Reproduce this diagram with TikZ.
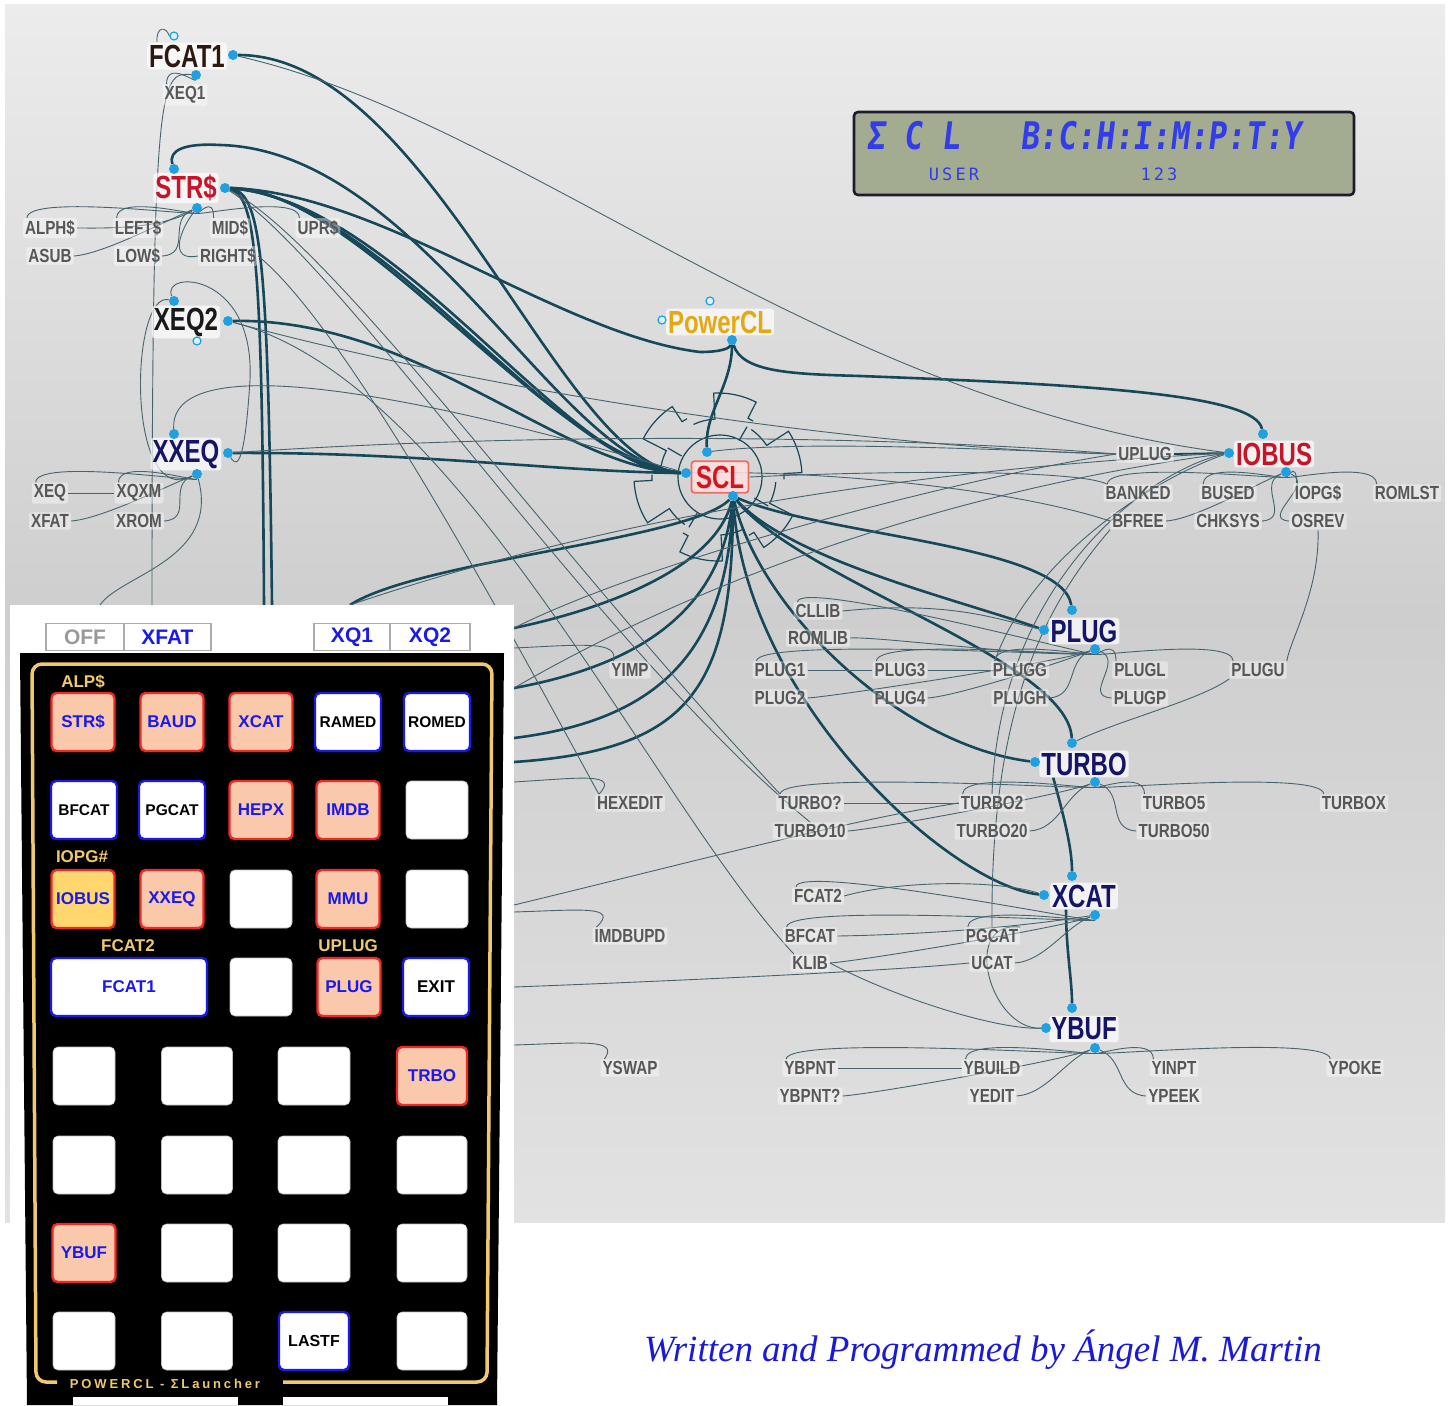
\documentclass[tikz,border=0pt]{standalone}
\usepackage{fontspec}
\setmainfont{Liberation Sans}
\usetikzlibrary{calc}
\newfontfamily\hubfam[FakeStretch=0.75]{Liberation Sans}
\newfontfamily\leaffam[FakeStretch=0.8]{Liberation Sans}
\newfontfamily\keyfam{Liberation Sans}
\newfontfamily\lcdfam[FakeSlant=0.12,FakeStretch=0.82]{DejaVu Sans Mono}
\newfontfamily\lcdsmallfam[LetterSpace=18]{DejaVu Sans Mono}
\newfontfamily\sigfam{Liberation Serif}
\newfontfamily\spacedfam[LetterSpace=22]{Liberation Sans}

\definecolor{edgedark}{RGB}{22,72,90}
\definecolor{edgethin}{RGB}{70,100,112}
\definecolor{portblue}{RGB}{30,160,225}
\definecolor{lcdbg}{RGB}{163,172,145}
\definecolor{lcdtext}{RGB}{50,60,235}
\definecolor{lcdborder}{RGB}{28,28,45}
\definecolor{peach}{RGB}{250,200,170}
\definecolor{keyred}{RGB}{240,40,40}
\definecolor{keyblue}{RGB}{25,25,235}
\definecolor{gold}{RGB}{240,200,110}
\definecolor{ioyellow}{RGB}{255,215,110}
\definecolor{sigblue}{RGB}{25,25,215}
\definecolor{navy}{RGB}{20,20,105}
\definecolor{strred}{RGB}{200,20,40}
\definecolor{sclred}{RGB}{215,20,30}
\definecolor{sclbox}{RGB}{235,110,100}
\definecolor{pcgold}{RGB}{228,168,20}
\definecolor{fcatc}{RGB}{45,25,15}
\definecolor{bgtop}{RGB}{236,236,236}
\definecolor{bgmid}{RGB}{206,206,206}
\definecolor{bgbot}{RGB}{226,226,226}

\pgfdeclarelayer{back}
\pgfdeclarelayer{edges}
\pgfdeclarelayer{front}
\pgfsetlayers{back,edges,main,front}

\tikzset{
  hub/.style={font=\hubfam\bfseries\fontsize{32}{32}\selectfont, fill=white, fill opacity=0.7, text opacity=1, inner sep=2pt, rounded corners=3pt},
  leaf/.style={font=\leaffam\bfseries\fontsize{19}{19}\selectfont, text=black!66, fill=white, fill opacity=0.4, text opacity=1, inner sep=2pt, rounded corners=2pt},
  port/.style={circle, fill=portblue, inner sep=0pt, minimum size=10pt},
  hollow/.style={circle, draw=portblue, fill=white!85!portblue, inner sep=0pt, minimum size=8pt, line width=1.2pt},
  thickedge/.style={draw=edgedark, line width=2.6pt},
  thinedge/.style={draw=edgethin, line width=0.9pt},
  gearline/.style={draw=edgedark, line width=1.2pt},
  keybase/.style={rounded corners=5pt, line width=2.4pt, minimum height=58pt, inner sep=0pt, font=\keyfam\bfseries\fontsize{17}{17}\selectfont},
  redkey/.style={keybase, fill=peach, draw=keyred, text=keyblue, minimum width=63pt},
  iokey/.style={keybase, fill=ioyellow, draw=keyred, text=keyblue, minimum width=63pt},
  bluekey/.style={keybase, fill=white, draw=keyblue, text=black, minimum width=66pt, font=\keyfam\bfseries\fontsize{15.5}{15.5}\selectfont},
  blankkey/.style={keybase, fill=white, draw=gray!50, line width=0.6pt, minimum width=62pt},
  goldlabel/.style={font=\keyfam\bfseries\fontsize{17}{17}\selectfont, text=gold, inner sep=0pt},
  tab/.style={draw=gray!65, line width=1.6pt, fill=white, minimum height=27pt, inner sep=0pt, font=\keyfam\bfseries\fontsize{21}{21}\selectfont},
  lcdch/.style={font=\lcdfam\bfseries\fontsize{38}{38}\selectfont, text=lcdtext, inner sep=0pt},
  lcdsmall/.style={font=\lcdsmallfam\fontsize{17}{17}\selectfont, text=lcdtext, inner sep=0pt},
}
\newcommand\hook[2]{\draw[thinedge] (#1) .. controls +(0,8) and +(0,-24) .. ([xshift=4pt]#2.north west);}
\newcommand\sideL[2]{\draw[thinedge] (#1) .. controls +(-30,12) and +(30,-2) .. (#2.east);}
\newcommand\sideR[2]{\draw[thinedge] (#1) .. controls +(30,12) and +(-30,-2) .. (#2.west);}

\begin{document}
\begin{tikzpicture}[x=1pt,y=-1pt]
\begin{pgfonlayer}{back}
\fill[white] (0,0) rectangle (1453,1405);
\shade[top color=bgtop, bottom color=bgbot, middle color=bgmid] (5,5) rectangle (1445,1222);
\end{pgfonlayer}
\useasboundingbox (0,0) rectangle (1453,1405);

% ---------- LCD ----------
\node[draw=lcdborder, line width=2.6pt, fill=lcdbg, rounded corners=4pt, minimum width=500pt, minimum height=83pt, inner sep=0pt] (lcd) at (1104,153.5) {};
\node[lcdch, anchor=west] (lcdA) at (866,136) {Σ C L};
\node[lcdch, anchor=west] (lcdB) at (1020,136) {B:C:H:I:M:P:T:Y};
\node[lcdsmall] (user) at (954,174) {USER};
\node[lcdsmall] (onetwothree) at (1159,174) {123};

% ---------- hubs ----------
\node[hub, text=fcatc] (FCAT1) at (187,56) {FCAT1};
\node[hub, text=strred] (STR) at (186,188) {STR\$};
\node[hub, text=black!90] (XEQ2) at (186,322) {XEQ2};
\node[hub, text=navy] (XXEQ) at (186,454) {XXEQ};
\node[hub, text=pcgold] (PowerCL) at (720,322) {PowerCL};
\node[hub, text=sclred, draw=sclbox, line width=1.8pt, fill=white!88!red, fill opacity=0.85, inner sep=4.5pt] (SCL) at (720,477) {SCL};
\node[hub, text=strred] (IOBUS) at (1274,454) {IOBUS};
\node[hub, text=navy] (PLUG) at (1084,631) {PLUG};
\node[hub, text=navy] (TURBO) at (1084,764) {TURBO};
\node[hub, text=navy] (XCAT) at (1084,896) {XCAT};
\node[hub, text=navy] (YBUF) at (1084,1029) {YBUF};

% ---------- ports ----------
\node[port] (F1r) at (233,55) {}; \node[port] (F1b) at (196,75) {}; \node[hollow] (F1t) at (174,36) {};
\node[port] (St) at (174,169) {}; \node[port] (Sr) at (225,188) {}; \node[port] (Sb) at (197,208) {};
\node[port] (X2t) at (174,301) {}; \node[port] (X2r) at (228,321) {}; \node[hollow] (X2b) at (197,341) {};
\node[port] (XXt) at (174,434) {}; \node[port] (XXr) at (228,453) {}; \node[port] (XXb) at (197,474) {};
\node[hollow] (PCt) at (710,301) {}; \node[hollow] (PCl) at (662,320) {}; \node[port] (PCb) at (732,340) {};
\node[port] (SCt) at (707,452) {}; \node[port] (SCl) at (686,473) {}; \node[port] (SCb) at (733,496) {};
\node[port] (IOt) at (1263,434) {}; \node[port] (IOl) at (1229,453) {}; \node[port] (IOb) at (1286,472) {};
\node[port] (PLt) at (1072,610) {}; \node[port] (PLl) at (1044,630) {}; \node[port] (PLb) at (1095,649) {};
\node[port] (TUt) at (1072,743) {}; \node[port] (TUl) at (1035,762) {}; \node[port] (TUb) at (1095,782) {};
\node[port] (XCt) at (1072,876) {}; \node[port] (XCl) at (1044,895) {}; \node[port] (XCb) at (1095,915) {};
\node[port] (YBt) at (1072,1008) {}; \node[port] (YBl) at (1046,1028) {}; \node[port] (YBb) at (1095,1048) {};

% ---------- leaves ----------
\node[leaf] (XEQ1) at (185,95) {XEQ1};
\node[leaf] (ALPH) at (50,228) {ALPH\$};
\node[leaf] (ASUB) at (50,256) {ASUB};
\node[leaf] (LEFTS) at (138,228) {LEFT\$};
\node[leaf] (LOWS) at (138,256) {LOW\$};
\node[leaf] (MIDS) at (230,228) {MID\$};
\node[leaf] (RIGHTS) at (228,256) {RIGHT\$};
\node[leaf] (UPRS) at (318,228) {UPR\$};
\node[leaf] (XEQ) at (50,493) {XEQ};
\node[leaf] (XFAT) at (50,521) {XFAT};
\node[leaf] (XQXM) at (139,493) {XQXM};
\node[leaf] (XROM) at (139,521) {XROM};
\node[leaf] (UPLUG) at (1145,454) {UPLUG};
\node[leaf] (BANKED) at (1138,493) {BANKED};
\node[leaf] (BFREE) at (1138,521) {BFREE};
\node[leaf] (BUSED) at (1228,493) {BUSED};
\node[leaf] (CHKSYS) at (1228,521) {CHKSYS};
\node[leaf] (IOPGS) at (1318,493) {IOPG\$};
\node[leaf] (OSREV) at (1318,521) {OSREV};
\node[leaf] (ROMLST) at (1407,493) {ROMLST};
\node[leaf] (CLLIB) at (818,611) {CLLIB};
\node[leaf] (ROMLIB) at (818,638) {ROMLIB};
\node[leaf] (YIMP) at (630,670) {YIMP};
\node[leaf] (PLUGa) at (780,670) {PLUG1};
\node[leaf] (PLUGb) at (780,698) {PLUG2};
\node[leaf] (PLUGc) at (900,670) {PLUG3};
\node[leaf] (PLUGd) at (900,698) {PLUG4};
\node[leaf] (PLUGG) at (1020,670) {PLUGG};
\node[leaf] (PLUGH) at (1020,698) {PLUGH};
\node[leaf] (PLUGL) at (1140,670) {PLUGL};
\node[leaf] (PLUGP) at (1140,698) {PLUGP};
\node[leaf] (PLUGU) at (1258,670) {PLUGU};
\node[leaf] (HEXEDIT) at (630,803) {HEXEDIT};
\node[leaf] (TURBOq) at (810,803) {TURBO?};
\node[leaf] (TURBOa) at (810,831) {TURBO10};
\node[leaf] (TURBOb) at (992,803) {TURBO2};
\node[leaf] (TURBOc) at (992,831) {TURBO20};
\node[leaf] (TURBOd) at (1174,803) {TURBO5};
\node[leaf] (TURBOe) at (1174,831) {TURBO50};
\node[leaf] (TURBOX) at (1354,803) {TURBOX};
\node[leaf] (FCAT2) at (818,896) {FCAT2};
\node[leaf] (IMDBUPD) at (630,936) {IMDBUPD};
\node[leaf] (BFCAT) at (810,936) {BFCAT};
\node[leaf] (KLIB) at (810,963) {KLIB};
\node[leaf] (PGCAT) at (992,936) {PGCAT};
\node[leaf] (UCAT) at (992,963) {UCAT};
\node[leaf] (YSWAP) at (630,1068) {YSWAP};
\node[leaf] (YBPNT) at (810,1068) {YBPNT};
\node[leaf] (YBPNTq) at (810,1096) {YBPNT?};
\node[leaf] (YBUILD) at (992,1068) {YBUILD};
\node[leaf] (YEDIT) at (992,1096) {YEDIT};
\node[leaf] (YINPT) at (1174,1068) {YINPT};
\node[leaf] (YPEEK) at (1174,1096) {YPEEK};
\node[leaf] (YPOKE) at (1355,1068) {YPOKE};

% keyboard-edge ends
\coordinate (kb1) at (350,605); \coordinate (kb2) at (514,628); \coordinate (kb3) at (514,688);
\coordinate (kb4) at (514,738); \coordinate (kb5) at (514,762);
\coordinate (kbt1) at (272,605); \coordinate (kbt2) at (264,605); \coordinate (kbv) at (152,605);
\coordinate (ke1) at (514,648); \coordinate (ke2) at (514,782); \coordinate (ke3) at (514,912);
\coordinate (ke4) at (514,1045); \coordinate (ke5) at (514,987); \coordinate (ke6) at (514,905);
\coordinate (ke7) at (100,605);
\coordinate (gc) at (718,477);

\begin{pgfonlayer}{edges}
% gear around SCL
\draw[gearline] (720,477) circle[radius=42];
\draw[gearline] \foreach \a in {5,65,...,305} {
  ($(gc)+(\a:58)$) arc[start angle=\a, end angle=\a+22, radius=58] -- ($(gc)+(\a+22:84)$)
  arc[start angle=\a+22, end angle=\a+52, radius=84] -- ($(gc)+(\a+52:66)$)
  arc[start angle=\a+52, end angle=\a+57, radius=66] };
\draw[gearline] \foreach \a in {30,120,210,300} { ($(gc)+(\a:42)$) -- ($(gc)+(\a:58)$) };

% thick edges
\draw[thickedge] (F1r) .. controls (430,55) and (560,465) .. (SCl);
\draw[thickedge] (St) .. controls (168,150) and (185,143) .. (220,145) .. controls (420,150) and (560,465) .. (SCl);
\draw[thickedge] (Sr) .. controls (360,188) and (550,460) .. (SCl);
\draw[thickedge] (Sr) .. controls (380,195) and (560,470) .. (SCl);
\draw[thickedge] (Sr) .. controls (400,200) and (570,476) .. (SCl);
\draw[thickedge] (Sr) .. controls (380,192) and (560,335) .. (700,352) .. controls (722,352) and (730,348) .. (PCb);
\draw[thickedge] (Sr) .. controls (262,192) and (268,260) .. (kbt1);
\draw[thickedge] (Sr) .. controls (256,196) and (262,260) .. (kbt2);
\draw[thickedge] (X2r) .. controls (420,318) and (560,468) .. (SCl);
\draw[thickedge] (XXr) .. controls (420,452) and (560,472) .. (SCl);
\draw[thickedge] (PCb) .. controls (732,385) and (705,412) .. (SCt);
\draw[thickedge] (PCb) .. controls (742,372) and (790,374) .. (860,376) .. controls (1100,385) and (1255,395) .. (IOt);
\draw[thickedge] (SCb) .. controls (790,560) and (960,600) .. (PLl);
\draw[thickedge] (SCb) .. controls (820,535) and (1062,545) .. (PLt);
\draw[thickedge] (SCb) .. controls (760,610) and (900,745) .. (TUl);
\draw[thickedge] (SCb) .. controls (745,700) and (950,885) .. (XCl);
\draw[thickedge] (SCb) .. controls (800,580) and (1068,660) .. (TUt);
\draw[thickedge] ([xshift=14pt]TURBO.south west) .. controls (1065,820) and (1072,850) .. (XCt);
\draw[thickedge] ([xshift=16pt]XCAT.south west) .. controls (1066,950) and (1072,980) .. (YBt);
\draw[thickedge] (SCb) .. controls (690,540) and (420,560) .. (kb1);
\draw[thickedge] (SCb) .. controls (715,570) and (600,610) .. (kb2);
\draw[thickedge] (SCb) .. controls (722,610) and (640,665) .. (kb3);
\draw[thickedge] (SCb) .. controls (728,650) and (660,720) .. (kb4);
\draw[thickedge] (SCb) .. controls (733,690) and (690,750) .. (kb5);
\draw[thickedge, line width=1.8pt] (UPLUG.east) -- (IOl);

% thin edges: hubs to leaves
\draw[thinedge] (F1t.west) .. controls (166,26) and (156,26) .. (157,42);
\hook{F1b}{XEQ1}
\draw[thinedge] (F1b) .. controls (160,72) and (152,80) .. (kbv);
\hook{Sb}{ALPH} \hook{Sb}{LEFTS} \hook{Sb}{MIDS} \hook{Sb}{UPRS}
\draw[thinedge] (Sb) .. controls (160,230) and (100,228) .. (ALPH.east);
\sideL{Sb}{ASUB} \sideL{Sb}{LOWS}
\draw[thinedge] (Sb) .. controls (180,230) and (168,262) .. (RIGHTS.west);
\draw[thinedge] (X2t) .. controls (130,290) and (125,510) .. (XXb);
\draw[thinedge] (X2t) .. controls (160,270) and (255,270) .. (250,380) .. controls (245,460) and (238,470) .. (XXr);
\draw[thinedge] (XXt) .. controls (170,370) and (300,360) .. (SCl);
\hook{XXb}{XEQ} \hook{XXb}{XQXM} \sideL{XXb}{XFAT} \sideL{XXb}{XROM}
\draw[thinedge] (XEQ.east) -- (XQXM.west);
\hook{IOb}{BANKED} \hook{IOb}{BUSED} \hook{IOb}{IOPGS} \hook{IOb}{ROMLST}
\sideL{IOb}{BFREE} \sideL{IOb}{CHKSYS} \sideR{IOb}{OSREV}
\hook{PLb}{CLLIB} \hook{PLb}{PLUGa} \hook{PLb}{PLUGc} \hook{PLb}{PLUGG} \hook{PLb}{PLUGL} \hook{PLb}{PLUGU}
\sideL{PLb}{ROMLIB} \sideL{PLb}{PLUGb} \sideL{PLb}{PLUGd} \sideL{PLb}{PLUGH} \sideR{PLb}{PLUGP}
\hook{TUb}{TURBOq} \hook{TUb}{TURBOb} \hook{TUb}{TURBOd} \hook{TUb}{TURBOX}
\sideL{TUb}{TURBOa} \sideL{TUb}{TURBOc} \sideR{TUb}{TURBOe}
\hook{XCb}{FCAT2} \hook{XCb}{BFCAT} \hook{XCb}{PGCAT}
\sideL{XCb}{KLIB} \sideL{XCb}{UCAT}
\hook{YBb}{YBPNT} \hook{YBb}{YBUILD} \hook{YBb}{YINPT} \hook{YBb}{YPOKE}
\sideL{YBb}{YBPNTq} \sideL{YBb}{YEDIT} \sideR{YBb}{YPEEK}
% leaves hooked from the left edge
\draw[thinedge] (ke1) .. controls (580,645) and (620,640) .. ([xshift=4pt]YIMP.north west);
\draw[thinedge] (ke2) .. controls (580,778) and (620,772) .. ([xshift=4pt]HEXEDIT.north west);
\draw[thinedge] (ke3) .. controls (580,910) and (620,905) .. ([xshift=4pt]IMDBUPD.north west);
\draw[thinedge] (ke4) .. controls (580,1043) and (620,1038) .. ([xshift=4pt]YSWAP.north west);
% long thin edges
\draw[thinedge] (F1r) .. controls (520,120) and (820,400) .. (IOl);
\draw[thinedge] (XXr) .. controls (600,428) and (950,440) .. (UPLUG.west);
\draw[thinedge] (X2r) .. controls (520,400) and (900,450) .. (UPLUG.west);
\draw[thinedge] (kb1) .. controls (600,520) and (900,470) .. (IOl);
\draw[thinedge] (kb2) .. controls (650,560) and (950,480) .. (UPLUG.west);
\draw[thinedge] (kb3) .. controls (700,580) and (950,490) .. (IOl);
\draw[thinedge] (SCL.east) .. controls (900,470) and (1080,470) .. ([xshift=4pt]BANKED.north west);
\draw[thinedge] (SCl) .. controls (800,470) and (1000,485) .. (BFREE.west);
\draw[thinedge] (SCt) .. controls (800,440) and (1000,450) .. (UPLUG.west);
\draw[thinedge] (IOl) .. controls (1150,480) and (1030,560) .. ([xshift=4pt]PLUGG.north west);
\draw[thinedge] (IOl) .. controls (1150,470) and (1000,580) .. (TURBOb.north);
\draw[thinedge] (BFREE.south west) .. controls (1050,600) and (990,700) .. (PGCAT.north);
\draw[thinedge] (OSREV.south) .. controls (1320,590) and (1290,640) .. (PLUGU.north east);
\draw[thinedge] (TUt) .. controls (1120,720) and (1200,700) .. (PLUGU.south west);
\draw[thinedge] (RIGHTS.east) .. controls (350,330) and (520,650) .. ([xshift=4pt]HEXEDIT.north west);
\draw[thinedge] (Sr) .. controls (330,240) and (560,560) .. ([xshift=4pt]TURBOq.north west);
\draw[thinedge] (Sr) .. controls (340,260) and (600,650) .. (TURBOa.north);
\draw[thinedge] (X2r) .. controls (460,380) and (650,800) .. ([xshift=4pt]KLIB.north west);
\draw[thinedge] (ke6) .. controls (700,860) and (850,820) .. (TURBOb.west);
\draw[thinedge] (ke5) .. controls (700,980) and (900,970) .. (UCAT.west);
\draw[thinedge] (KLIB.east) .. controls (900,1000) and (1000,1030) .. (YBl);
\draw[thinedge] (FCAT2.east) .. controls (900,880) and (1000,880) .. (XCl);
\draw[thinedge] (BFCAT.east) .. controls (900,935) and (1000,930) .. (XCb);
\draw[thinedge] (YBPNT.east) -- (YBUILD.west);
\draw[thinedge] (CLLIB.east) .. controls (950,600) and (1000,620) .. (PLl);
\draw[thinedge] (PLUGa.east) -- (PLUGc.west);
\draw[thinedge] (PLUGc.east) -- (PLUGG.west);
\draw[thinedge] (TURBOq.east) -- (TURBOb.west);
\draw[thinedge] (YBl) .. controls (990,1030) and (960,920) .. (PGCAT.north east);
\draw[thinedge] (ke7) .. controls (120,575) and (220,560) .. (XXb);
\end{pgfonlayer}

% ---------- keyboard overlay ----------
\begin{pgfonlayer}{front}
\fill[white] (10,605) rectangle (514,1405);
\node[tab, text=gray!80, minimum width=78pt] (tOFF) at (85,637) {OFF};
\node[tab, text=keyblue, minimum width=87pt] (tXFAT) at (167.5,637) {XFAT};
\node[tab, text=keyblue, minimum width=76pt] (tXQ1) at (352,637) {XQ1};
\node[tab, text=keyblue, minimum width=80pt] (tXQ2) at (430,637) {XQ2};
\fill[black] (20,653) -- (504,653) -- (497,1405) -- (27,1405) -- cycle;
\draw[gold, line width=3.5pt, rounded corners=10pt] (57,1382) -- (36,1382) -- (32,664) -- (492,664) -- (487,1382) -- (283,1382);
\node[font=\spacedfam\bfseries\fontsize{13}{13}\selectfont, text=gold, inner sep=0pt] (brand) at (165,1384) {POWERCL - ΣLauncher};
\fill[white] (73,1397) rectangle (238,1405);
\fill[white] (283,1397) rectangle (448,1405);
\node[goldlabel] (lALP) at (83,682) {ALP\$};
\node[goldlabel] (lIOPG) at (82,857) {IOPG\#};
\node[goldlabel] (lFCAT2) at (128,946) {FCAT2};
\node[goldlabel] (lUPLUG) at (348,946) {UPLUG};
% row 1
\node[redkey] (kSTR) at (83,722) {STR\$};
\node[redkey] (kBAUD) at (172,722) {BAUD};
\node[redkey] (kXCAT) at (261,722) {XCAT};
\node[bluekey] (kRAMED) at (348,722) {RAMED};
\node[bluekey] (kROMED) at (437,722) {ROMED};
% row 2
\node[bluekey] (kBFCAT) at (84,810) {BFCAT};
\node[bluekey] (kPGCAT) at (172,810) {PGCAT};
\node[redkey] (kHEPX) at (261,810) {HEPX};
\node[redkey] (kIMDB) at (348,810) {IMDB};
\node[blankkey] (kB25) at (437,810) {};
% row 3
\node[iokey] (kIOBUS) at (83,899) {IOBUS};
\node[redkey] (kXXEQ) at (172,899) {XXEQ};
\node[blankkey] (kB33) at (261,899) {};
\node[redkey] (kMMU) at (348,899) {MMU};
\node[blankkey] (kB35) at (437,899) {};
% row 4
\node[bluekey, minimum width=156pt, text=keyblue, font=\keyfam\bfseries\fontsize{17}{17}\selectfont] (kFCAT1) at (129,987) {FCAT1};
\node[blankkey] (kB42) at (261,987) {};
\node[redkey] (kPLUG) at (349,987) {PLUG};
\node[bluekey, font=\keyfam\bfseries\fontsize{17}{17}\selectfont] (kEXIT) at (436,987) {EXIT};
% row 5
\node[blankkey] (kB51) at (84,1076) {};
\node[blankkey, minimum width=71pt] (kB52) at (197,1076) {};
\node[blankkey, minimum width=72pt] (kB53) at (314,1076) {};
\node[redkey, minimum width=70pt] (kTRBO) at (432,1076) {TRBO};
% row 6
\node[blankkey] (kB61) at (84,1165) {};
\node[blankkey, minimum width=71pt] (kB62) at (197,1165) {};
\node[blankkey, minimum width=72pt] (kB63) at (314,1165) {};
\node[blankkey, minimum width=70pt] (kB64) at (432,1165) {};
% row 7
\node[redkey] (kYBUF) at (84,1253) {YBUF};
\node[blankkey, minimum width=71pt] (kB72) at (197,1253) {};
\node[blankkey, minimum width=72pt] (kB73) at (314,1253) {};
\node[blankkey, minimum width=70pt] (kB74) at (432,1253) {};
% row 8
\node[blankkey] (kB81) at (84,1341) {};
\node[blankkey, minimum width=71pt] (kB82) at (197,1341) {};
\node[bluekey, minimum width=70pt, font=\keyfam\bfseries\fontsize{16}{16}\selectfont] (kLASTF) at (314,1341) {LASTF};
\node[blankkey, minimum width=70pt] (kB84) at (432,1341) {};

\node[font=\sigfam\itshape\fontsize{37}{37}\selectfont, text=sigblue] (sig) at (983,1350) {Written and Programmed by Ángel M. Martin};
\end{pgfonlayer}
\end{tikzpicture}
\end{document}
